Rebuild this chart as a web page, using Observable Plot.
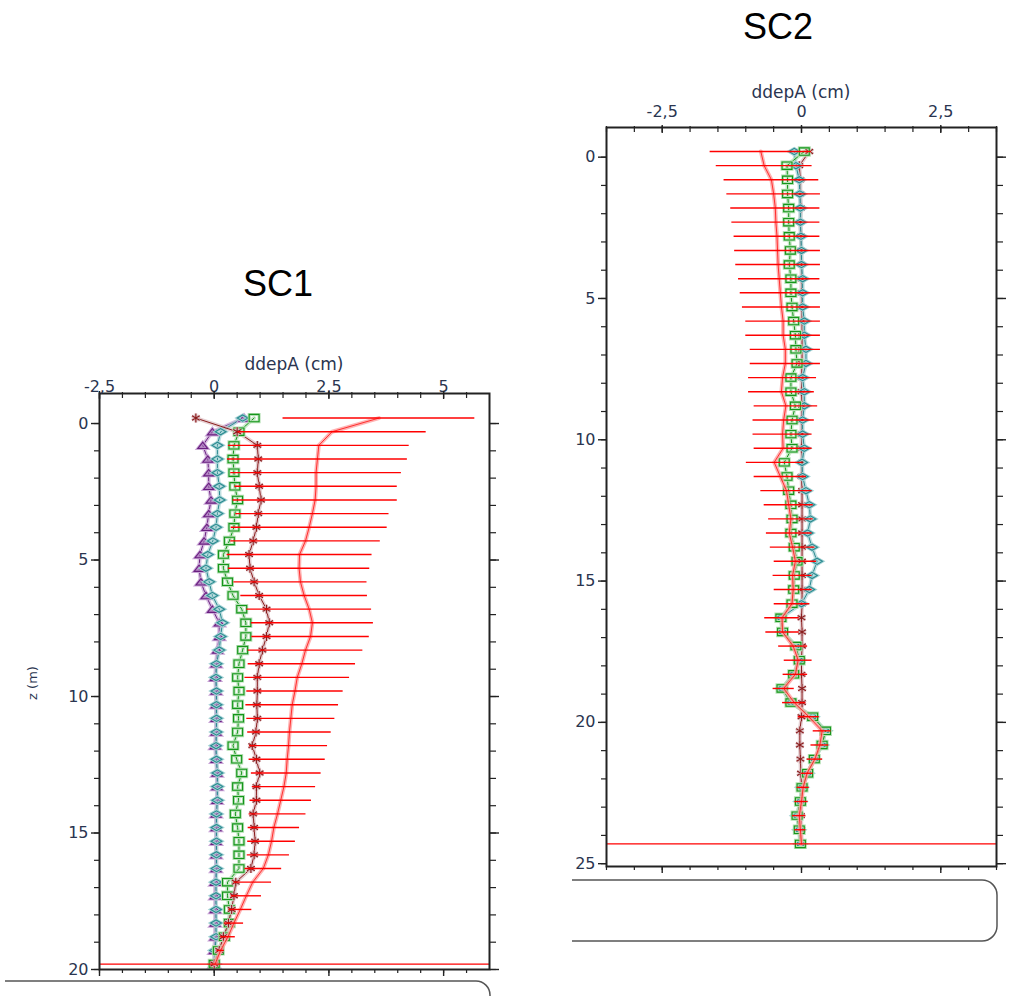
<!DOCTYPE html>
<html>
<head>
<meta charset="utf-8">
<script src="https://cdn.jsdelivr.net/npm/d3@7"></script>
<script src="https://cdn.jsdelivr.net/npm/@observablehq/plot@0.6"></script>
<style>
  html, body { margin: 0; padding: 0; background: #fff; }
  body { width: 1012px; height: 996px; overflow: hidden; position: relative; }
  .abs { position: absolute; }
  #overlay { position: absolute; left: 0; top: 0; }
</style>
</head>
<body>
<svg id="overlay" width="1012" height="996" xmlns="http://www.w3.org/2000/svg">
  <text x="778" y="39" text-anchor="middle" font-family="Liberation Sans, Arial, sans-serif" font-size="36" fill="#000">SC2</text>
  <text x="278" y="296" text-anchor="middle" font-family="Liberation Sans, Arial, sans-serif" font-size="36" fill="#000">SC1</text>
  <text x="294" y="370" text-anchor="middle" font-family="DejaVu Sans, sans-serif" font-size="17" fill="#2a3550">ddepA (cm)</text>
  <text x="801" y="98" text-anchor="middle" font-family="DejaVu Sans, sans-serif" font-size="17" fill="#2a3550">ddepA (cm)</text>
  <text transform="translate(37,683) rotate(-90)" text-anchor="middle" font-family="DejaVu Sans, sans-serif" font-size="13" fill="#2a3550">z (m)</text>
  <path d="M5,981 H476 A14,14 0 0 1 490,995 V1000" fill="none" stroke="#555" stroke-width="1.5"/>
  <path d="M572,880 H982 A15,15 0 0 1 997,895 V926 A15,15 0 0 1 982,941 H572" fill="none" stroke="#555" stroke-width="1.5"/>
</svg>
<div id="sc1" class="abs" style="left:0px; top:330px;"></div>
<div id="sc2" class="abs" style="left:500px; top:60px;"></div>
<script>
// ---------- SC1 data ----------
const depth1 = [-0.2, 0.3, 0.8, 1.3, 1.8, 2.3, 2.8, 3.3, 3.8, 4.3, 4.8, 5.3, 5.8, 6.3, 6.8, 7.3, 7.8, 8.3, 8.8, 9.3, 9.8, 10.3, 10.8, 11.3, 11.8, 12.3, 12.8, 13.3, 13.8, 14.3, 14.8, 15.3, 15.8, 16.3, 16.8, 17.3, 17.8, 18.3, 18.8, 19.3, 19.8];
const purple1 = [0.65, -0.04, -0.25, -0.14, -0.12, -0.12, -0.07, -0.12, -0.16, -0.22, -0.31, -0.33, -0.29, -0.18, -0.04, 0.11, 0.11, 0.07, 0.04, 0.02, 0.04, 0.04, 0.04, 0.04, 0.02, 0.04, 0.06, 0.06, 0.06, 0.04, 0.04, 0.04, 0.04, 0.04, 0.02, 0.02, 0.02, 0.02, 0.02, 0.0, 0.0];
const teal1 = [0.62, 0.14, 0.07, 0.07, 0.07, 0.11, 0.12, 0.07, 0.04, -0.03, -0.14, -0.18, -0.11, -0.04, 0.11, 0.18, 0.14, 0.11, 0.05, 0.04, 0.05, 0.05, 0.05, 0.05, 0.04, 0.05, 0.07, 0.07, 0.07, 0.05, 0.05, 0.05, 0.05, 0.05, 0.04, 0.04, 0.04, 0.04, 0.04, 0.02, 0.01];
const green1 = [0.87, 0.54, 0.43, 0.41, 0.43, 0.45, 0.51, 0.45, 0.43, 0.33, 0.2, 0.2, 0.29, 0.41, 0.6, 0.69, 0.69, 0.62, 0.54, 0.51, 0.54, 0.51, 0.53, 0.51, 0.41, 0.49, 0.6, 0.51, 0.53, 0.46, 0.51, 0.54, 0.54, 0.54, 0.29, 0.29, 0.33, 0.33, 0.22, 0.09, 0.0];
const brown1 = [-0.4, 0.5, 0.94, 0.96, 0.94, 0.98, 1.02, 0.96, 0.92, 0.85, 0.76, 0.78, 0.87, 0.98, 1.14, 1.2, 1.14, 1.05, 0.98, 0.94, 0.94, 0.93, 0.94, 0.91, 0.83, 0.92, 0.99, 0.92, 0.92, 0.85, 0.87, 0.89, 0.87, 0.8, 0.47, 0.43, 0.38, 0.31, 0.2, 0.11, 0.0];
const red1 = [3.59, 2.57, 2.28, 2.25, 2.22, 2.22, 2.2, 2.14, 2.07, 1.99, 1.86, 1.85, 1.88, 1.96, 2.07, 2.14, 2.1, 1.99, 1.91, 1.81, 1.76, 1.7, 1.67, 1.64, 1.62, 1.59, 1.57, 1.52, 1.45, 1.38, 1.3, 1.25, 1.18, 1.07, 0.84, 0.7, 0.57, 0.43, 0.3, 0.14, 0.02];
const err1 = [2.09, 2.05, 1.97, 1.96, 1.86, 1.77, 1.79, 1.67, 1.7, 1.63, 1.58, 1.54, 1.45, 1.38, 1.36, 1.33, 1.28, 1.25, 1.17, 1.14, 1.05, 1.01, 0.96, 0.91, 0.85, 0.83, 0.76, 0.69, 0.67, 0.62, 0.56, 0.52, 0.46, 0.4, 0.41, 0.33, 0.25, 0.21, 0.16, 0.08, 0.0];
const xTicks1 = [-2.5, 0, 2.5, 5];
const yTicks1 = [0, 5, 10, 15, 20];

// ---------- SC2 data ----------
const depth2 = [-0.2, 0.3, 0.8, 1.3, 1.8, 2.3, 2.8, 3.3, 3.8, 4.3, 4.8, 5.3, 5.8, 6.3, 6.8, 7.3, 7.8, 8.3, 8.8, 9.3, 9.8, 10.3, 10.8, 11.3, 11.8, 12.3, 12.8, 13.3, 13.8, 14.3, 14.8, 15.3, 15.8, 16.3, 16.8, 17.3, 17.8, 18.3, 18.8, 19.3, 19.8, 20.3, 20.8, 21.3, 21.8, 22.3, 22.8, 23.3, 23.8, 24.3];
const teal2 = [-0.13, -0.1, -0.04, -0.03, -0.02, -0.02, -0.01, 0.0, 0.0, 0.02, 0.02, 0.02, 0.05, 0.05, 0.08, 0.08, 0.02, 0.05, 0.05, 0.02, 0.02, 0.05, 0.01, 0.02, 0.08, 0.14, 0.16, 0.11, 0.19, 0.28, 0.19, 0.14, 0.0, -0.37, -0.34, -0.1, -0.04, -0.14, -0.35, -0.19, 0.2, 0.43, 0.37, 0.23, 0.11, 0.01, -0.02, -0.08, -0.04, -0.02];
const green2 = [0.05, -0.26, -0.25, -0.25, -0.23, -0.23, -0.22, -0.2, -0.22, -0.19, -0.19, -0.17, -0.14, -0.11, -0.1, -0.08, -0.19, -0.19, -0.11, -0.17, -0.19, -0.17, -0.31, -0.26, -0.23, -0.19, -0.17, -0.19, -0.13, -0.08, -0.13, -0.14, -0.17, -0.37, -0.34, -0.1, -0.04, -0.14, -0.35, -0.19, 0.2, 0.43, 0.37, 0.23, 0.11, 0.01, -0.02, -0.08, -0.04, -0.02];
const brown2 = [0.14, -0.04, -0.02, -0.02, -0.01, -0.02, -0.01, -0.01, 0.0, 0.0, 0.0, 0.0, 0.01, 0.01, 0.01, 0.01, 0.0, 0.0, 0.01, 0.0, 0.0, 0.0, 0.01, 0.0, 0.01, 0.01, 0.01, 0.01, 0.01, 0.01, 0.01, 0.01, 0.01, 0.0, 0.01, 0.01, 0.0, 0.0, 0.01, 0.01, 0.0, -0.03, -0.03, -0.02, -0.01, 0.0, 0.0, -0.01, 0.0, 0.0];
const red2 = [-0.73, -0.67, -0.54, -0.5, -0.47, -0.46, -0.44, -0.43, -0.42, -0.4, -0.38, -0.36, -0.33, -0.33, -0.29, -0.29, -0.34, -0.36, -0.28, -0.32, -0.34, -0.33, -0.49, -0.38, -0.27, -0.23, -0.19, -0.22, -0.16, -0.11, -0.16, -0.15, -0.17, -0.35, -0.34, -0.15, -0.06, -0.11, -0.32, -0.13, 0.13, 0.37, 0.33, 0.24, 0.1, 0.03, 0.0, -0.04, -0.02, 0.0];
const err2 = [0.91, 0.86, 0.85, 0.84, 0.8, 0.79, 0.77, 0.77, 0.76, 0.73, 0.72, 0.7, 0.67, 0.67, 0.63, 0.63, 0.61, 0.59, 0.57, 0.55, 0.53, 0.52, 0.5, 0.47, 0.46, 0.44, 0.4, 0.41, 0.4, 0.38, 0.35, 0.34, 0.32, 0.31, 0.3, 0.26, 0.25, 0.22, 0.19, 0.21, 0.19, 0.16, 0.16, 0.14, 0.11, 0.11, 0.12, 0.12, 0.1, 0.0];
const xTicks2 = [-2.5, 0, 2.5];
const yTicks2 = [0, 5, 10, 15, 20, 25];

// ---------- helpers ----------
const fmt = d => String(d).replace(".", ",");
const rows = (z, v, e) => z.map((d, i) => ({z: d, v: v[i], e: e ? e[i] : 0}));
const wideDiamond = {draw(c, size) { const s = Math.sqrt(size), w = s * 0.72, h = s * 0.42; c.moveTo(-w, 0); c.lineTo(0, -h); c.lineTo(w, 0); c.lineTo(0, h); c.closePath(); }};
const wideSquare = {draw(c, size) { const s = Math.sqrt(size), w = s * 0.7, h = s * 0.52; c.rect(-w, -h, 2 * w, 2 * h); }};
const wideTriangle = {draw(c, size) { const s = Math.sqrt(size), w = s * 0.7, h = s * 0.45; c.moveTo(0, -h); c.lineTo(w, h); c.lineTo(-w, h); c.closePath(); }};
const TICK = "#222";
const TXT = "#2a3550";

const STY = {
  purple: {color: "#6a1f80", halo: "#c9a6d6", fill: "#9a5fae", symbol: wideTriangle, r: 4},
  teal:   {color: "#2a8a90", halo: "#a6d3d5", fill: "none", symbol: wideDiamond, r: 4.2},
  green:  {color: "#14961a", halo: "#b3dfb3", fill: "none", symbol: wideSquare, r: 4},
  brown:  {color: "#8a1c1c", halo: "#dcbcc0", fill: "none", symbol: "asterisk", r: 4.2}
};

function profile(cfg) {
  const marks = [];
  for (const s of cfg.series) {
    const d = rows(cfg.depth, s.values);
    const st = STY[s.kind];
    marks.push(Plot.line(d, {x: "v", y: "z", stroke: st.halo, strokeWidth: 4, strokeOpacity: 0.7}));
    marks.push(Plot.line(d, {x: "v", y: "z", stroke: st.color, strokeWidth: 1}));
  }
  for (const s of cfg.series) {
    const d = rows(cfg.depth, s.values);
    const st = STY[s.kind];
    marks.push(Plot.dot(d, {x: "v", y: "z", symbol: st.symbol, r: st.r, stroke: st.halo, strokeWidth: 3, fill: "none"}));
    marks.push(Plot.dot(d, {x: "v", y: "z", symbol: st.symbol, r: st.r, stroke: st.color, strokeWidth: 1.1, fill: st.fill, fillOpacity: 0.45}));
  }
  const rd = rows(cfg.depth, cfg.red, cfg.err);
  marks.push(Plot.line(rd, {x: "v", y: "z", stroke: "#ffa0a0", strokeWidth: 4, strokeOpacity: 0.8}));
  marks.push(Plot.line(rd, {x: "v", y: "z", stroke: "#ff2020", strokeWidth: 0.9}));
  marks.push(Plot.ruleY(rd, {y: "z", x1: d => d.v - d.e, x2: d => d.v + d.e, stroke: "#ff0000", strokeWidth: 1.4}));
  marks.push(Plot.ruleY([cfg.depth[cfg.depth.length - 1]], {stroke: "#ff0000", strokeWidth: 1.2}));
  marks.push(Plot.frame({stroke: TICK, strokeWidth: 2}));
  // axes
  marks.push(Plot.axisX({anchor: "top", ticks: cfg.xTicks, tickSize: 0, tickPadding: cfg.topPad, tickFormat: fmt, fill: TXT, fontSize: 16}));
  marks.push(Plot.axisX({anchor: "top", ticks: cfg.xMinor, tickSize: 6, inset: 4, fill: "none", stroke: TICK, strokeWidth: 1.2}));
  marks.push(Plot.axisX({anchor: "top", ticks: cfg.xTicks, tickSize: 8, inset: 5, fill: "none", stroke: TICK, strokeWidth: 1.4}));
  marks.push(Plot.axisX({anchor: "bottom", ticks: cfg.xMinor, tickSize: 4, fill: "none", stroke: TICK, strokeWidth: 1.2}));
  marks.push(Plot.axisX({anchor: "bottom", ticks: cfg.xTicks, tickSize: 7, fill: "none", stroke: TICK, strokeWidth: 1.4}));
  marks.push(Plot.axisY({anchor: "left", ticks: cfg.yTicks, tickSize: 0, tickPadding: 11, tickFormat: fmt, fill: TXT, fontSize: 16}));
  marks.push(Plot.axisY({anchor: "left", ticks: cfg.yMinor, tickSize: 5, fill: "none", stroke: TICK, strokeWidth: 1.2}));
  marks.push(Plot.axisY({anchor: "left", ticks: cfg.yTicks, tickSize: 8, fill: "none", stroke: TICK, strokeWidth: 1.4}));
  marks.push(Plot.axisY({anchor: "right", ticks: cfg.yMinor, tickSize: 6, fill: "none", stroke: TICK, strokeWidth: 1.2}));
  marks.push(Plot.axisY({anchor: "right", ticks: cfg.yTicks, tickSize: 9, fill: "none", stroke: TICK, strokeWidth: 1.4}));
  return Plot.plot({
    width: cfg.width, height: cfg.height,
    marginLeft: cfg.m[3], marginRight: cfg.m[1], marginTop: cfg.m[0], marginBottom: cfg.m[2],
    x: {domain: cfg.xDomain, label: null},
    y: {domain: cfg.yDomain, reverse: true, label: null},
    style: {fontFamily: "DejaVu Sans, sans-serif", fontSize: "16px", color: TXT, background: "transparent", overflow: "visible"},
    marks
  });
}

document.getElementById("sc1").append(profile({
  depth: depth1,
  series: [
    {kind: "purple", values: purple1},
    {kind: "teal", values: teal1},
    {kind: "green", values: green1},
    {kind: "brown", values: brown1}
  ],
  red: red1, err: err1,
  xDomain: [-2.5, 6], yDomain: [-1.1, 20],
  xTicks: xTicks1, xMinor: d3.range(-2.5, 5.75, 0.5),
  yTicks: yTicks1, yMinor: d3.range(0, 20.5, 1),
  width: 500, height: 650, m: [63, 11, 11, 99], topPad: 2
}));

document.getElementById("sc2").append(profile({
  depth: depth2,
  series: [
    {kind: "brown", values: brown2},
    {kind: "teal", values: teal2},
    {kind: "green", values: green2}
  ],
  red: red2, err: err2,
  xDomain: [-3.5, 3.5], yDomain: [-1.05, 25.1],
  xTicks: xTicks2, xMinor: d3.range(-3.5, 3.75, 0.5),
  yTicks: yTicks2, yMinor: d3.range(0, 25.5, 1),
  width: 512, height: 818, m: [67, 16, 12, 106], topPad: 11
}));
</script>
</body>
</html>
